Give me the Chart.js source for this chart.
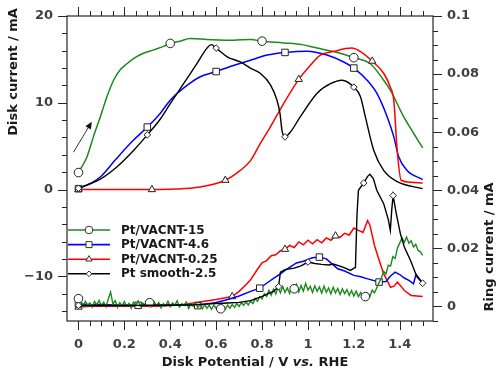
<!DOCTYPE html>
<html><head><meta charset="utf-8">
<script src="https://cdn.jsdelivr.net/npm/chart.js@4.4.1/dist/chart.umd.min.js"></script>
<style>html,body{margin:0;padding:0;background:#fff}canvas{display:block}</style>
</head><body>
<canvas id="c" width="500" height="380"></canvas>
<script>
// ---------- labels ----------
const seriesNames = ['Pt/VACNT-15', 'Pt/VACNT-4.6', 'Pt/VACNT-0.25', 'Pt smooth-2.5'];
const potentialTicks = [0, 0.2, 0.4, 0.6, 0.8, 1, 1.2, 1.4];
const diskTicks = [-10, 0, 10, 20];
const ringTicks = [0, 0.02, 0.04, 0.06, 0.08, 0.1];

// ---------- disk currents (mA) ----------
const greenDiskV = [0, 0.037, 0.065, 0.095, 0.124, 0.153, 0.182, 0.211, 0.24, 0.283, 0.327, 0.371, 0.4, 0.443, 0.487, 0.56, 0.676, 0.75, 0.8, 0.894, 0.974, 1.04, 1.112, 1.2, 1.272, 1.33, 1.359, 1.417, 1.461, 1.5];
const greenDiskI = [1.96, 3.76, 6.07, 8.37, 10.7, 12.6, 13.8, 14.5, 15.1, 15.7, 16.1, 16.5, 16.84, 17.1, 17.4, 17.3, 17.2, 17.3, 17.1, 16.9, 16.7, 16.3, 15.9, 15.2, 14.5, 12.6, 11.45, 8.4, 6.46, 4.8];
const greenDiskMarks = [0, 0.4, 0.8, 1.2];

const blueDiskV = [0, 0.037, 0.095, 0.16, 0.24, 0.3, 0.356, 0.4, 0.473, 0.531, 0.6, 0.676, 0.749, 0.822, 0.9, 0.996, 1.083, 1.156, 1.2, 1.258, 1.3, 1.345, 1.374, 1.395, 1.432, 1.5];
const blueDiskI = [0.1, 0.5, 1.45, 3.4, 5.7, 7.2, 8.77, 10.3, 12.0, 13.0, 13.6, 14.3, 14.9, 15.5, 15.8, 15.95, 15.5, 14.7, 14.0, 12.6, 11.1, 8.4, 6.1, 3.8, 2.2, 1.15];
const blueDiskMarks = [0, 0.3, 0.6, 0.9, 1.2];

const redDiskV = [0, 0.1, 0.2, 0.32, 0.42, 0.53, 0.64, 0.705, 0.749, 0.792, 0.836, 0.894, 0.96, 1.01, 1.054, 1.11, 1.19, 1.229, 1.28, 1.33, 1.359, 1.374, 1.389, 1.406, 1.45, 1.5];
const redDiskI = [0, 0, 0, 0, 0.05, 0.3, 1.07, 2.2, 3.3, 5.3, 7.2, 9.9, 12.7, 14.3, 15.5, 15.9, 16.3, 15.9, 14.8, 13.4, 11.8, 10.3, 4.5, 1.07, 0.85, 0.76];
const redDiskMarks = [0, 0.32, 0.64, 0.96, 1.28];

const blackDiskV = [0, 0.095, 0.167, 0.24, 0.3, 0.356, 0.4, 0.458, 0.516, 0.56, 0.579, 0.6, 0.648, 0.705, 0.749, 0.792, 0.836, 0.865, 0.878, 0.887, 0.9, 0.923, 0.967, 1.04, 1.098, 1.149, 1.2, 1.229, 1.25, 1.287, 1.33, 1.389, 1.5];
const blackDiskI = [0.15, 1.2, 2.6, 4.5, 6.3, 8.1, 9.9, 12.2, 14.5, 16.3, 16.7, 16.3, 15.3, 14.7, 14.0, 13.4, 12.1, 10.3, 8.8, 6.8, 6.07, 6.6, 8.4, 11.1, 12.2, 12.6, 11.8, 10.7, 8.4, 4.5, 2.2, 0.9, 0.1];
const blackDiskMarks = [0, 0.3, 0.6, 0.9, 1.2];

// ---------- ring currents (mA) ----------
const greenRingV = [0, 0.01, 0.02, 0.03, 0.04, 0.05, 0.06, 0.07, 0.08, 0.09, 0.1, 0.11, 0.12, 0.13, 0.14, 0.15, 0.16, 0.17, 0.18, 0.19, 0.2, 0.21, 0.22, 0.23, 0.24, 0.25, 0.26, 0.27, 0.28, 0.29, 0.3, 0.31, 0.32, 0.33, 0.34, 0.35, 0.36, 0.37, 0.38, 0.39, 0.4, 0.41, 0.42, 0.43, 0.44, 0.45, 0.46, 0.47, 0.48, 0.49, 0.5, 0.51, 0.52, 0.53, 0.54, 0.55, 0.56, 0.57, 0.58, 0.59, 0.6, 0.61, 0.62, 0.63, 0.64, 0.65, 0.66, 0.67, 0.68, 0.69, 0.7, 0.71, 0.72, 0.73, 0.74, 0.75, 0.76, 0.77, 0.78, 0.79, 0.8, 0.81, 0.82, 0.83, 0.84, 0.85, 0.86, 0.87, 0.88, 0.89, 0.9, 0.91, 0.92, 0.93, 0.94, 0.95, 0.96, 0.97, 0.98, 0.99, 1.0, 1.01, 1.02, 1.03, 1.04, 1.05, 1.06, 1.07, 1.08, 1.09, 1.1, 1.11, 1.12, 1.13, 1.14, 1.15, 1.16, 1.17, 1.18, 1.19, 1.2, 1.21, 1.22, 1.23, 1.24, 1.25, 1.26, 1.27, 1.28, 1.29, 1.3, 1.31, 1.32, 1.33, 1.34, 1.35, 1.36, 1.37, 1.38, 1.39, 1.4, 1.41, 1.42, 1.43, 1.44, 1.45, 1.46, 1.47, 1.48, 1.49, 1.5];
const greenRingI = [0.0027, 0.0014, 0.0000, 0.0018, 0.0004, 0.0012, -0.0002, 0.0017, 0.0006, 0.0021, 0.0002, 0.0015, -0.0001, 0.0026, 0.0050, 0.0008, 0.0020, -0.0003, 0.0013, 0.0002, 0.0017, 0.0000, 0.0011, -0.0006, 0.0015, 0.0004, 0.0019, 0.0001, 0.0012, 0.0005, 0.0022, 0.0013, 0.0000, 0.0016, 0.0003, 0.0014, -0.0005, 0.0010, 0.0002, 0.0018, -0.0001, 0.0012, 0.0004, 0.0020, -0.0002, 0.0009, 0.0003, 0.0015, -0.0007, 0.0008, 0.0001, 0.0013, -0.0003, 0.0007, -0.0008, 0.0006, -0.0006, 0.0004, -0.0010, 0.0005, -0.0007, 0.0002, -0.0008, 0.0000, -0.0009, 0.0005, -0.0006, 0.0007, -0.0003, 0.0010, 0.0000, 0.0013, 0.0004, 0.0016, 0.0005, 0.0018, 0.0010, 0.0027, 0.0018, 0.0034, 0.0026, 0.0044, 0.0035, 0.0056, 0.0039, 0.0060, 0.0043, 0.0066, 0.0047, 0.0069, 0.0048, 0.0064, 0.0045, 0.0070, 0.0061, 0.0076, 0.0050, 0.0072, 0.0053, 0.0080, 0.0056, 0.0069, 0.0048, 0.0071, 0.0052, 0.0067, 0.0046, 0.0070, 0.0049, 0.0064, 0.0043, 0.0066, 0.0047, 0.0062, 0.0041, 0.0060, 0.0044, 0.0058, 0.0038, 0.0055, 0.0036, 0.0053, 0.0034, 0.0048, 0.0031, 0.0034, 0.0045, 0.0034, 0.0056, 0.0047, 0.0064, 0.0082, 0.0098, 0.0121, 0.0112, 0.0142, 0.0139, 0.0172, 0.0165, 0.0201, 0.0218, 0.0236, 0.0221, 0.0239, 0.0218, 0.0226, 0.0205, 0.0214, 0.0193, 0.0188, 0.0176];
const greenRingMarks = [0, 0.31, 0.62, 0.94, 1.25];

const blueRingV = [0, 0.05, 0.1, 0.15, 0.2, 0.26, 0.3, 0.35, 0.4, 0.45, 0.52, 0.55, 0.6, 0.65, 0.7, 0.75, 0.79, 0.82, 0.85, 0.88, 0.9, 0.93, 0.95, 0.98, 1.0, 1.02, 1.05, 1.08, 1.1, 1.13, 1.16, 1.2, 1.23, 1.26, 1.31, 1.34, 1.36, 1.38, 1.4, 1.42, 1.44, 1.46, 1.47, 1.5];
const blueRingI = [0.0009, 0.0006, 0.0007, 0.0005, 0.0006, 0.0004, 0.0006, 0.0005, 0.0006, 0.0005, 0.0003, 0.0008, 0.0014, 0.0024, 0.0036, 0.0052, 0.0063, 0.0080, 0.0097, 0.0112, 0.0124, 0.0140, 0.0150, 0.0156, 0.0162, 0.0168, 0.0170, 0.0164, 0.0150, 0.0130, 0.0122, 0.0107, 0.0102, 0.0095, 0.0084, 0.0086, 0.0105, 0.0118, 0.0110, 0.0098, 0.0090, 0.0078, 0.0107, 0.0080];
const blueRingMarks = [0, 0.26, 0.52, 0.79, 1.05, 1.31];

const redRingV = [0, 0.05, 0.1, 0.15, 0.2, 0.25, 0.3, 0.35, 0.4, 0.45, 0.5, 0.55, 0.6, 0.64, 0.67, 0.7, 0.73, 0.75, 0.78, 0.8, 0.82, 0.84, 0.86, 0.88, 0.9, 0.92, 0.94, 0.96, 0.98, 1.0, 1.02, 1.04, 1.06, 1.08, 1.1, 1.12, 1.14, 1.16, 1.18, 1.2, 1.22, 1.24, 1.26, 1.27, 1.29, 1.31, 1.33, 1.36, 1.375, 1.39, 1.405, 1.42, 1.45, 1.5];
const redRingI = [-0.0002, 0.0001, 0.0002, 0.0001, 0.0002, 0.0001, 0.0002, 0.0001, 0.0003, 0.0006, 0.0012, 0.0018, 0.0024, 0.0030, 0.0034, 0.0052, 0.0075, 0.0092, 0.0128, 0.0150, 0.0158, 0.0175, 0.0178, 0.0192, 0.0197, 0.0210, 0.0203, 0.0222, 0.0212, 0.0228, 0.0216, 0.0230, 0.0219, 0.0236, 0.0228, 0.0243, 0.0238, 0.0252, 0.0246, 0.0270, 0.0262, 0.0255, 0.0296, 0.0280, 0.0210, 0.0160, 0.0113, 0.0066, 0.0070, 0.0084, 0.0070, 0.0055, 0.0038, 0.0034];
const redRingMarks = [0, 0.67, 0.9, 1.12];

const blackRingV = [0, 0.05, 0.1, 0.2, 0.3, 0.4, 0.5, 0.55, 0.6, 0.65, 0.7, 0.75, 0.8, 0.85, 0.872, 0.88, 0.9, 0.94, 0.97, 1.0, 1.03, 1.06, 1.09, 1.11, 1.14, 1.16, 1.185, 1.207, 1.214, 1.22, 1.243, 1.26, 1.27, 1.285, 1.3, 1.33, 1.35, 1.359, 1.365, 1.371, 1.385, 1.403, 1.42, 1.447, 1.47, 1.5];
const blackRingI = [0.0004, 0.0003, 0.0004, 0.0003, 0.0004, 0.0004, 0.0006, 0.0008, 0.0010, 0.0012, 0.0014, 0.0020, 0.0035, 0.0052, 0.0068, 0.0118, 0.0127, 0.0132, 0.0140, 0.0153, 0.0148, 0.0145, 0.0143, 0.0146, 0.0139, 0.0133, 0.0124, 0.0135, 0.0320, 0.0400, 0.0425, 0.0448, 0.0455, 0.0440, 0.0400, 0.0354, 0.0300, 0.0262, 0.0330, 0.0382, 0.0320, 0.0250, 0.0205, 0.0158, 0.0112, 0.0080];
const blackRingMarks = [0, 0.872, 1.0, 1.243, 1.371, 1.5];

// arrow annotation (data coords: potential, disk current)
const arrowFrom = [-0.022, 4.3];
const arrowTo = [0.058, 7.8];

// ---------- styles ----------
const GREEN = '#1c8a1c', BLUE = '#0000ff', RED = '#ff0000', BLACK = '#000000';
const FONT = 'DejaVu Sans';
Chart.defaults.font.family = FONT;

function mk(V, I, marks, color, style, r, axis, lw, smooth) {
  return {
    data: V.map((v, i) => ({x: v, y: I[i]})),
    yAxisID: axis,
    borderColor: color,
    borderWidth: lw,
    pointStyle: style,
    pointRadius: c => (c.raw && marks.includes(c.raw.x)) ? r : 0,
    pointHoverRadius: 0,
    pointBackgroundColor: '#ffffff',
    pointBorderColor: '#222222',
    pointBorderWidth: 1,
    cubicInterpolationMode: smooth ? 'monotone' : 'default',
    tension: 0,
    fill: false
  };
}

const datasets = [
  mk(blackRingV, blackRingI, blackRingMarks, BLACK, 'rectRot', 3.3, 'y2', 1.4, false),
  mk(greenRingV, greenRingI, greenRingMarks, GREEN, 'circle', 4.3, 'y2', 1.4, false),
  mk(blueRingV, blueRingI, blueRingMarks, BLUE, 'rect', 4.6, 'y2', 1.5, false),
  mk(redRingV, redRingI, redRingMarks, RED, 'triangle', 4.2, 'y2', 1.5, false),
  mk(blackDiskV, blackDiskI, blackDiskMarks, BLACK, 'rectRot', 3.3, 'y', 1.4, true),
  mk(redDiskV, redDiskI, redDiskMarks, RED, 'triangle', 4.2, 'y', 1.5, true),
  mk(blueDiskV, blueDiskI, blueDiskMarks, BLUE, 'rect', 4.6, 'y', 1.5, true),
  mk(greenDiskV, greenDiskI, greenDiskMarks, GREEN, 'circle', 4.3, 'y', 1.5, true)
];

const tickFont = {family: FONT, size: 13, weight: 'bold'};
const tickColor = '#404040';

function drawMarker(c, style, x, y, r) {
  c.beginPath();
  if (style === 'circle') c.arc(x, y, r, 0, Math.PI * 2);
  else if (style === 'rect') c.rect(x - r, y - r, 2 * r, 2 * r);
  else if (style === 'triangle') { c.moveTo(x, y - r); c.lineTo(x + r * 0.87, y + r * 0.5); c.lineTo(x - r * 0.87, y + r * 0.5); c.closePath(); }
  else { c.moveTo(x, y - r); c.lineTo(x + r, y); c.lineTo(x, y + r); c.lineTo(x - r, y); c.closePath(); }
  c.fillStyle = '#fff'; c.fill();
  c.strokeStyle = '#333'; c.lineWidth = 1; c.stroke();
}

const decor = {
  id: 'decor',
  afterDraw(chart) {
    const c = chart.ctx, a = chart.chartArea;
    const sx = chart.scales.x, sy = chart.scales.y, sr = chart.scales.y2;
    c.save();
    // frame
    c.strokeStyle = '#262626'; c.lineWidth = 1.2;
    c.strokeRect(a.left, a.top, a.right - a.left, a.bottom - a.top);
    c.lineWidth = 1;
    const seg = (x1, y1, x2, y2) => { c.beginPath(); c.moveTo(x1, y1); c.lineTo(x2, y2); c.stroke(); };
    // x ticks (bottom and top)
    for (let k = 0; k <= 30; k++) {
      const v = k * 0.05;
      const major = Math.abs(v / 0.2 - Math.round(v / 0.2)) < 1e-6;
      const L = major ? 9 : 5;
      const px = Math.round(sx.getPixelForValue(v)) + 0.5;
      seg(px, a.bottom, px, a.bottom + L);
      seg(px, a.top, px, a.top - L);
    }
    // left ticks
    for (let v = -14; v <= 20; v += 2) {
      const L = (v % 10 === 0) ? 9 : 5;
      const py = Math.round(sy.getPixelForValue(v)) + 0.5;
      seg(a.left, py, a.left - L, py);
    }
    // right ticks
    for (let k = -1; k <= 20; k++) {
      const L = (k % 4 === 0) ? 9 : 5;
      const py = Math.round(sr.getPixelForValue(k * 0.005)) + 0.5;
      seg(a.right, py, a.right + L, py);
    }
    // axis titles
    c.fillStyle = '#1a1a1a';
    c.font = 'bold 13px "' + FONT + '"';
    c.textAlign = 'center'; c.textBaseline = 'middle';
    c.save(); c.translate(14, 72); c.rotate(-Math.PI / 2); c.fillText('Disk current / mA', 0, 0); c.restore();
    c.save(); c.translate(490, 247); c.rotate(-Math.PI / 2); c.fillText('Ring current / mA', 0, 0); c.restore();
    // x title with italic "vs."
    const p1 = 'Disk Potential / V ', p2 = 'vs.', p3 = ' RHE';
    const fB = 'bold 13px "' + FONT + '"', fI = 'italic bold 13px "' + FONT + '"';
    c.font = fB; const w1 = c.measureText(p1).width, w3 = c.measureText(p3).width;
    c.font = fI; const w2 = c.measureText(p2).width;
    let x0 = 255 - (w1 + w2 + w3) / 2;
    const ty = 363;
    c.textAlign = 'left';
    c.font = fB; c.fillText(p1, x0, ty);
    c.font = fI; c.fillText(p2, x0 + w1, ty);
    c.font = fB; c.fillText(p3, x0 + w1 + w2, ty);
    // legend
    const rows = [[GREEN, 'circle', 3.8], [BLUE, 'rect', 3.0], [RED, 'triangle', 3.6], [BLACK, 'rectRot', 2.8]];
    c.font = 'bold 12px "' + FONT + '"';
    rows.forEach((rw, i) => {
      const y = 230 + i * 14.6;
      c.strokeStyle = rw[0]; c.lineWidth = 1.6;
      seg(68, y, 110, y);
      drawMarker(c, rw[1], 89, y, rw[2]);
      c.fillStyle = '#1a1a1a'; c.textAlign = 'left'; c.textBaseline = 'middle';
      c.fillText(seriesNames[i], 121, y + 0.5);
    });
    // arrow
    const ax1 = sx.getPixelForValue(arrowFrom[0]), ay1 = sy.getPixelForValue(arrowFrom[1]);
    const ax2 = sx.getPixelForValue(arrowTo[0]), ay2 = sy.getPixelForValue(arrowTo[1]);
    const ang = Math.atan2(ay2 - ay1, ax2 - ax1);
    c.strokeStyle = '#333'; c.fillStyle = '#111'; c.lineWidth = 1;
    seg(ax1, ay1, ax2 - 5 * Math.cos(ang), ay2 - 5 * Math.sin(ang));
    c.beginPath();
    c.moveTo(ax2, ay2);
    c.lineTo(ax2 - 7 * Math.cos(ang) + 3.2 * Math.sin(ang), ay2 - 7 * Math.sin(ang) - 3.2 * Math.cos(ang));
    c.lineTo(ax2 - 7 * Math.cos(ang) - 3.2 * Math.sin(ang), ay2 - 7 * Math.sin(ang) + 3.2 * Math.cos(ang));
    c.closePath(); c.fill();
    c.restore();
  }
};

function fixV(s) { s.width = 67; s.paddingTop = 0; s.paddingBottom = 0; }

new Chart(document.getElementById('c'), {
  type: 'line',
  data: {datasets},
  options: {
    responsive: false,
    animation: false,
    layout: {padding: {top: 16, left: 0, right: 0, bottom: 0}},
    plugins: {legend: {display: false}, tooltip: {enabled: false}},
    events: [],
    scales: {
      x: {
        type: 'linear', position: 'bottom', min: -0.05, max: 1.545,
        grid: {display: false, drawTicks: false}, border: {display: false},
        afterBuildTicks: s => { s.ticks = potentialTicks.map(v => ({value: v})); },
        afterFit: s => { s.height = 59; s.paddingLeft = 0; s.paddingRight = 0; },
        ticks: {font: tickFont, color: tickColor, padding: 16, autoSkip: false, maxRotation: 0,
          callback: v => String(+(+v).toFixed(1))}
      },
      y: {
        type: 'linear', position: 'left', min: -15.15, max: 20,
        grid: {display: false, drawTicks: false}, border: {display: false},
        afterBuildTicks: s => { s.ticks = diskTicks.map(v => ({value: v})); },
        afterFit: fixV,
        ticks: {font: tickFont, color: tickColor, padding: 14, autoSkip: false,
          callback: v => v < 0 ? '\u2212' + Math.abs(v) : String(v)}
      },
      y2: {
        type: 'linear', position: 'right', min: -0.005, max: 0.1,
        grid: {display: false, drawTicks: false}, border: {display: false},
        afterBuildTicks: s => { s.ticks = ringTicks.map(v => ({value: v})); },
        afterFit: fixV,
        ticks: {font: tickFont, color: tickColor, padding: 14, autoSkip: false,
          callback: v => String(+(+v).toFixed(3))}
      }
    }
  },
  plugins: [decor]
});
</script>
</body></html>
